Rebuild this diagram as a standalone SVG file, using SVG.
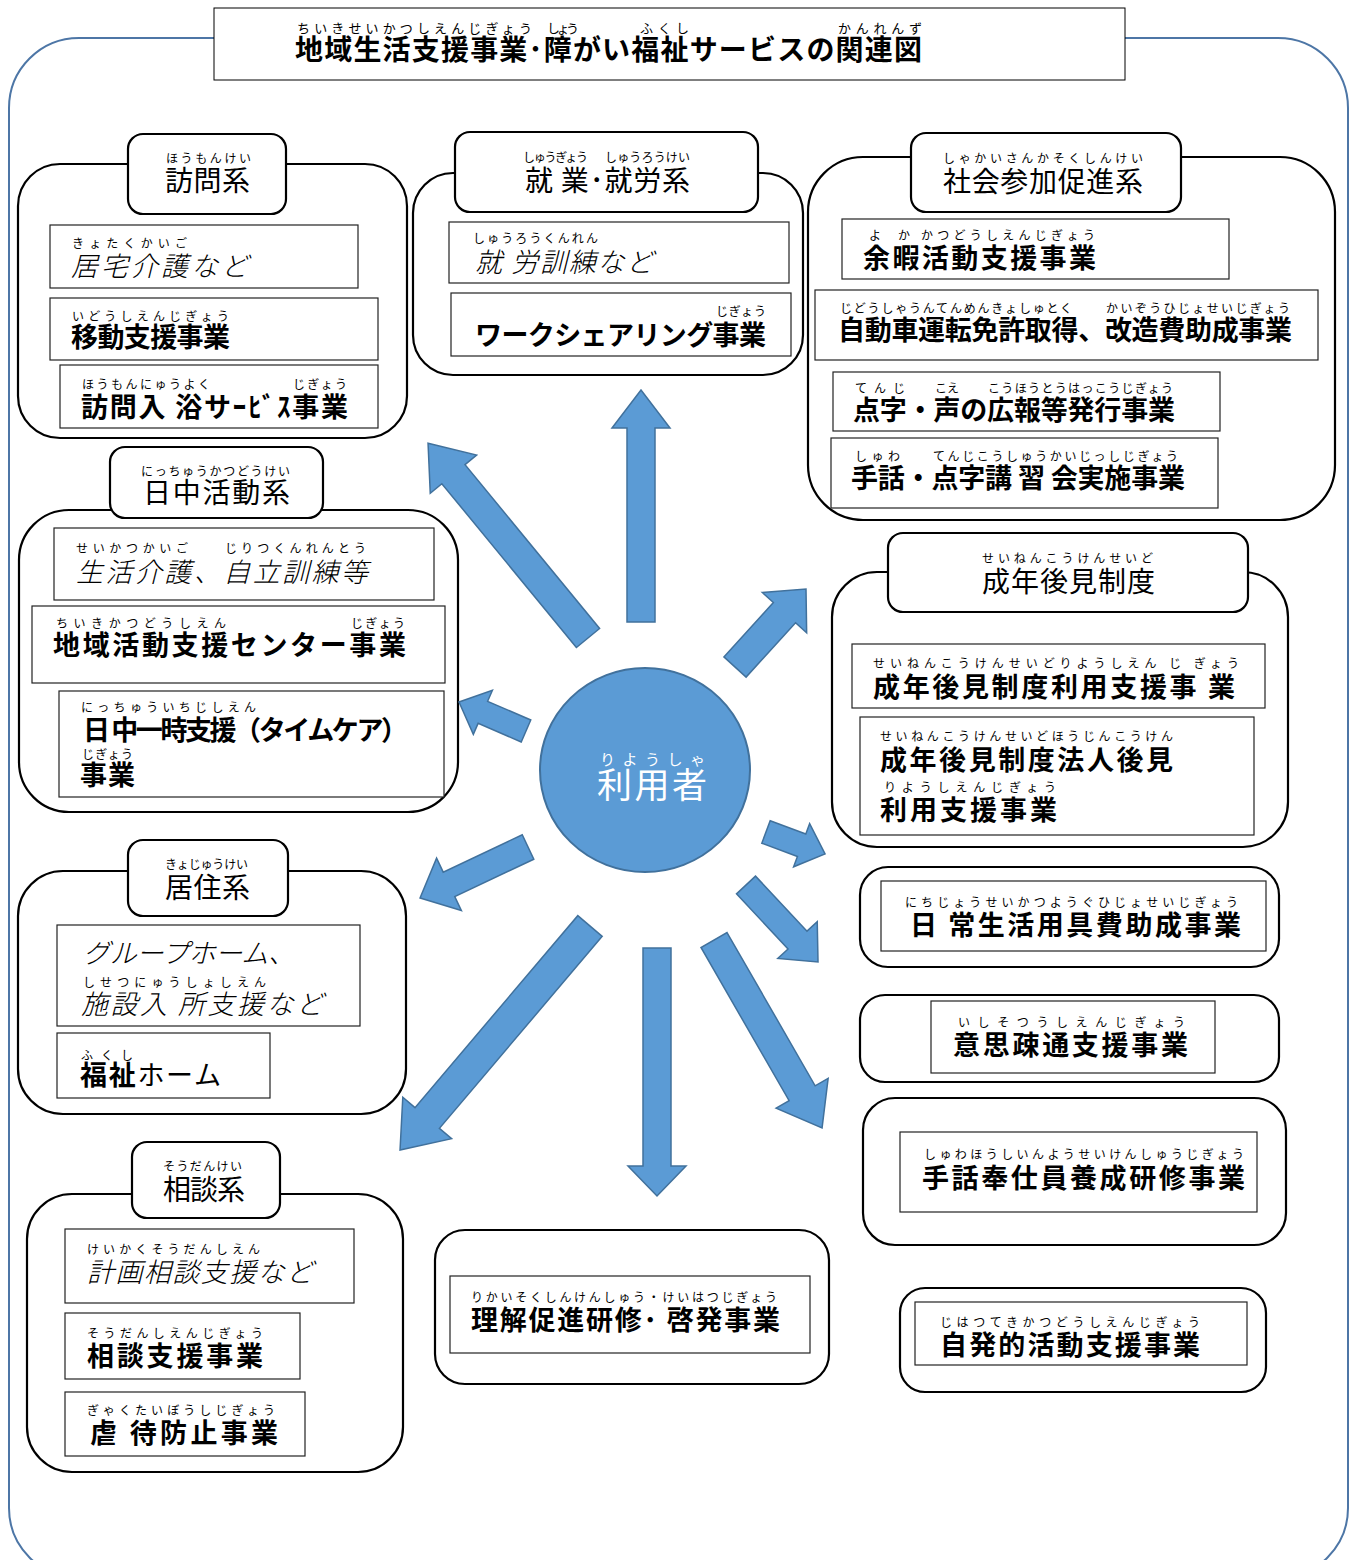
<svg xmlns="http://www.w3.org/2000/svg" width="1357" height="1560" viewBox="0 0 1357 1560">
<style>
.grp{fill:#fff;stroke:#000;stroke-width:2.2}
.box{fill:#fff;stroke:#222;stroke-width:1.2}
.t{font-family:"Noto Sans CJK JP","Noto Sans CJK SC",sans-serif;font-size:27px;fill:#000}
.b{font-weight:700}
.i{font-style:italic;font-weight:300}
.h{font-size:28px;font-weight:400}
.r{font-family:"Noto Sans CJK JP","Noto Sans CJK SC",sans-serif;font-size:12px;fill:#000}
.arr{fill:#5b9bd5;stroke:#41719c;stroke-width:1.5}
</style>
<rect x="9" y="38" width="1339" height="1540" rx="70" fill="none" stroke="#4d76a6" stroke-width="2"/>
<g id="title">
<rect x="214" y="8" width="911" height="72" fill="#fff" stroke="#000" stroke-width="1"/>
<text class="r" style="font-size:13px" x="297" y="33" textLength="235">ちいきせいかつしえんじぎょう</text>
<text class="r" style="font-size:13px" x="547" y="33" textLength="32">しょう</text>
<text class="r" style="font-size:13px" x="640" y="33" textLength="49">ふくし</text>
<text class="r" style="font-size:13px" x="838" y="33" textLength="84">かんれんず</text>
<text class="t b" style="font-size:28px" x="295" y="60" textLength="627">地域生活支援事業･障がい福祉サービスの関連図</text>
</g>
<g id="houmon">
<rect class="grp" x="18" y="164" width="389" height="274" rx="42"/>
<rect class="grp" x="128" y="134" width="158" height="80" rx="15"/>
<text class="r" x="166" y="163" textLength="85">ほうもんけい</text>
<text class="t h" x="165" y="191" textLength="85">訪問系</text>
<rect class="box" x="50" y="225" width="308" height="63"/>
<text class="r" x="72" y="248" textLength="115">きょたくかいご</text>
<text class="t i" x="71" y="276" textLength="177">居宅介護など</text>
<rect class="box" x="50" y="298" width="328" height="62"/>
<text class="r" x="72" y="321" textLength="157">いどうしえんじぎょう</text>
<text class="t b" x="71" y="347" textLength="159">移動支援事業</text>
<rect class="box" x="60" y="365" width="318" height="63"/>
<text class="r" x="82" y="389" textLength="128">ほうもんにゅうよく</text>
<text class="r" x="293" y="389" textLength="54">じぎょう</text>
<text class="t b" x="81" y="417" textLength="267">訪問入 浴サｰﾋﾞｽ事業</text>
</g>
<g id="shugyo">
<rect class="grp" x="413" y="173" width="390" height="202" rx="40"/>
<rect class="grp" x="455" y="132" width="303" height="80" rx="15"/>
<text class="r" x="523" y="162" textLength="65">しゅうぎょう</text>
<text class="r" x="605" y="162" textLength="85">しゅうろうけい</text>
<text class="t h" x="525" y="191" textLength="165">就 業･就労系</text>
<rect class="box" x="449" y="222" width="340" height="61"/>
<text class="r" x="473" y="243" textLength="125">しゅうろうくんれん</text>
<text class="t i" x="475" y="272" textLength="178">就 労訓練など</text>
<rect class="box" x="451" y="293" width="340" height="63"/>
<text class="r" x="716" y="316" textLength="50">じぎょう</text>
<text class="t b" x="475" y="345" textLength="291">ワークシェアリング事業</text>
</g>
<g id="shakai">
<rect class="grp" x="808" y="157" width="527" height="363" rx="55"/>
<rect class="grp" x="911" y="133" width="270" height="79" rx="15"/>
<text class="r" x="943" y="163" textLength="200">しゃかいさんかそくしんけい</text>
<text class="t h" x="943" y="192" textLength="200">社会参加促進系</text>
<rect class="box" x="842" y="219" width="387" height="60"/>
<text class="r" x="869" y="240">よ</text>
<text class="r" x="898" y="240">か</text>
<text class="r" x="921" y="240" textLength="174">かつどうしえんじぎょう</text>
<text class="t b" x="863" y="268" textLength="233">余暇活動支援事業</text>
<rect class="box" x="815" y="290" width="503" height="70"/>
<text class="r" x="840" y="313" textLength="232">じどうしゃうんてんめんきょしゅとく</text>
<text class="r" x="1106" y="313" textLength="184">かいぞうひじょせいじぎょう</text>
<text class="t b" x="838" y="340" textLength="454">自動車運転免許取得、改造費助成事業</text>
<rect class="box" x="833" y="372" width="387" height="59"/>
<text class="r" x="855" y="393" textLength="50">てんじ</text>
<text class="r" x="935" y="393" textLength="24">こえ</text>
<text class="r" x="988" y="393" textLength="185">こうほうとうはっこうじぎょう</text>
<text class="t b" x="853" y="420" textLength="322">点字・声の広報等発行事業</text>
<rect class="box" x="831" y="438" width="387" height="70"/>
<text class="r" x="855" y="461" textLength="45">しゅわ</text>
<text class="r" x="933" y="461" textLength="245">てんじこうしゅうかいじっしじぎょう</text>
<text class="t b" x="851" y="488" textLength="334">手話・点字講 習 会実施事業</text>
</g>
<g id="nitchu">
<rect class="grp" x="19" y="510" width="439" height="302" rx="50"/>
<rect class="grp" x="110" y="447" width="213" height="71" rx="15"/>
<text class="r" x="141" y="476" textLength="149">にっちゅうかつどうけい</text>
<text class="t h" x="143" y="503" textLength="147">日中活動系</text>
<rect class="box" x="54" y="528" width="380" height="72"/>
<text class="r" x="76" y="553" textLength="112">せいかつかいご</text>
<text class="r" x="225" y="553" textLength="141">じりつくんれんとう</text>
<text class="t i" x="76" y="582" textLength="292">生活介護、自立訓練等</text>
<rect class="box" x="32" y="606" width="413" height="77"/>
<text class="r" x="56" y="628" textLength="170">ちいきかつどうしえん</text>
<text class="r" x="351" y="628" textLength="54">じぎょう</text>
<text class="t b" x="53" y="655" textLength="353">地域活動支援センター事業</text>
<rect class="box" x="59" y="691" width="385" height="106"/>
<text class="r" x="81" y="712" textLength="175">にっちゅういちじしえん</text>
<text class="t b" x="83" y="740" textLength="325">日 中一時支援（タイムケア）</text>
<text class="r" x="82" y="759" textLength="51">じぎょう</text>
<text class="t b" x="80" y="785" textLength="55">事業</text>
</g>
<g id="seinen">
<rect class="grp" x="832" y="572" width="456" height="275" rx="45"/>
<rect class="grp" x="888" y="533" width="360" height="79" rx="15"/>
<text class="r" x="982" y="563" textLength="171">せいねんこうけんせいど</text>
<text class="t h" x="982" y="592" textLength="173">成年後見制度</text>
<rect class="box" x="852" y="644" width="413" height="64"/>
<text class="r" x="873" y="668" textLength="366">せいねんこうけんせいどりようしえん じ ぎょう</text>
<text class="t b" x="873" y="697" textLength="362">成年後見制度利用支援事 業</text>
<rect class="box" x="860" y="717" width="394" height="118"/>
<text class="r" x="880" y="741" textLength="293">せいねんこうけんせいどほうじんこうけん</text>
<text class="t b" x="880" y="770" textLength="293">成年後見制度法人後見</text>
<text class="r" x="884" y="792" textLength="172">りようしえんじぎょう</text>
<text class="t b" x="880" y="820" textLength="177">利用支援事業</text>
</g>
<g id="kyoju">
<rect class="grp" x="18" y="871" width="388" height="243" rx="45"/>
<rect class="grp" x="128" y="840" width="160" height="76" rx="15"/>
<text class="r" x="165" y="869" textLength="83">きょじゅうけい</text>
<text class="t h" x="165" y="898" textLength="85">居住系</text>
<rect class="box" x="57" y="925" width="303" height="101"/>
<text class="t i" x="83" y="963" textLength="212">グループホーム、</text>
<text class="r" x="83" y="987" textLength="183">しせつにゅうしょしえん</text>
<text class="t i" x="81" y="1014" textLength="242">施設入 所支援など</text>
<rect class="box" x="57" y="1033" width="213" height="65"/>
<text class="r" x="81" y="1060" textLength="52">ふくし</text>
<text class="t" x="80" y="1085" textLength="141"><tspan class="b">福祉</tspan>ホーム</text>
</g>
<g id="soudan">
<rect class="grp" x="27" y="1194" width="376" height="278" rx="45"/>
<rect class="grp" x="132" y="1142" width="148" height="76" rx="15"/>
<text class="r" x="163" y="1171" textLength="79">そうだんけい</text>
<text class="t h" x="163" y="1200" textLength="82">相談系</text>
<rect class="box" x="65" y="1229" width="289" height="74"/>
<text class="r" x="87" y="1254" textLength="173">けいかくそうだんしえん</text>
<text class="t i" x="87" y="1282" textLength="226">計画相談支援など</text>
<rect class="box" x="65" y="1313" width="235" height="66"/>
<text class="r" x="87" y="1338" textLength="176">そうだんしえんじぎょう</text>
<text class="t b" x="87" y="1366" textLength="176">相談支援事業</text>
<rect class="box" x="65" y="1392" width="240" height="64"/>
<text class="r" x="87" y="1415" textLength="188">ぎゃくたいぼうしじぎょう</text>
<text class="t b" x="90" y="1443" textLength="188">虐 待防止事業</text>
</g>
<g id="nichijo">
<rect class="grp" x="860" y="867" width="419" height="100" rx="28"/>
<rect class="box" x="881" y="881" width="385" height="70"/>
<text class="r" x="905" y="907" textLength="333">にちじょうせいかつようぐひじょせいじぎょう</text>
<text class="t b" x="910" y="935" textLength="331">日 常生活用具費助成事業</text>
</g>
<g id="ishi">
<rect class="grp" x="860" y="995" width="419" height="87" rx="25"/>
<rect class="box" x="931" y="1001" width="284" height="72"/>
<text class="r" x="958" y="1027" textLength="227">いしそつうしえんじぎょう</text>
<text class="t b" x="953" y="1055" textLength="235">意思疎通支援事業</text>
</g>
<g id="shuwa">
<rect class="grp" x="863" y="1098" width="423" height="147" rx="32"/>
<rect class="box" x="900" y="1132" width="357" height="80"/>
<text class="r" x="924" y="1159" textLength="320">しゅわほうしいんようせいけんしゅうじぎょう</text>
<text class="t b" x="922" y="1188" textLength="323">手話奉仕員養成研修事業</text>
</g>
<g id="jihatsu">
<rect class="grp" x="900" y="1288" width="366" height="104" rx="25"/>
<rect class="box" x="915" y="1302" width="332" height="63"/>
<text class="r" x="940" y="1327" textLength="260">じはつてきかつどうしえんじぎょう</text>
<text class="t b" x="940" y="1355" textLength="260">自発的活動支援事業</text>
</g>
<g id="rikai">
<rect class="grp" x="435" y="1230" width="394" height="154" rx="30"/>
<rect class="box" x="450" y="1276" width="360" height="77"/>
<text class="r" x="471" y="1302" textLength="306">りかいそくしんけんしゅう・けいはつじぎょう</text>
<text class="t b" x="471" y="1330" textLength="309">理解促進研修･ 啓発事業</text>
</g>
<g id="connectors">
<polygon class="arr" transform="translate(641,622) rotate(-90)" points="0,-14 194,-14 194,-29 232,0 194,29 194,14 0,14"/>
<polygon class="arr" transform="translate(588,638) rotate(-129.4)" points="0,-15 212,-15 212,-30 252,0 212,30 212,15 0,15"/>
<polygon class="arr" transform="translate(526,731) rotate(-156.6)" points="0,-12 47,-12 47,-24 73,0 47,24 47,12 0,12"/>
<polygon class="arr" transform="translate(735,667) rotate(-47.7)" points="0,-15 73.5,-15 73.5,-30 105.5,0 73.5,30 73.5,15 0,15"/>
<polygon class="arr" transform="translate(766,832) rotate(20.4)" points="0,-12 38,-12 38,-23 63,0 38,23 38,12 0,12"/>
<polygon class="arr" transform="translate(746,885) rotate(46.9)" points="0,-13 75.4,-13 75.4,-27 105.4,0 75.4,27 75.4,13 0,13"/>
<polygon class="arr" transform="translate(714,940) rotate(60.1)" points="0,-15 176.8,-15 176.8,-30 216.8,0 176.8,30 176.8,15 0,15"/>
<polygon class="arr" transform="translate(657,948) rotate(90)" points="0,-14 218,-14 218,-29 248,0 218,29 218,14 0,14"/>
<polygon class="arr" transform="translate(590,926) rotate(130.3)" points="0,-16 251.7,-16 251.7,-32 293.7,0 251.7,32 251.7,16 0,16"/>
<polygon class="arr" transform="translate(528,847) rotate(154.7)" points="0,-13.5 87.4,-13.5 87.4,-29 119.4,0 87.4,29 87.4,13.5 0,13.5"/>
</g>
<g id="user">
<ellipse cx="645" cy="770" rx="105" ry="102" fill="#5b9bd5" stroke="#41719c" stroke-width="2"/>
<text class="r" style="font-size:15px;fill:#fff" x="600" y="765" textLength="105">りようしゃ</text>
<text class="t" style="font-size:35px;fill:#fff" x="597" y="798" textLength="110">利用者</text>
</g>
</svg>
